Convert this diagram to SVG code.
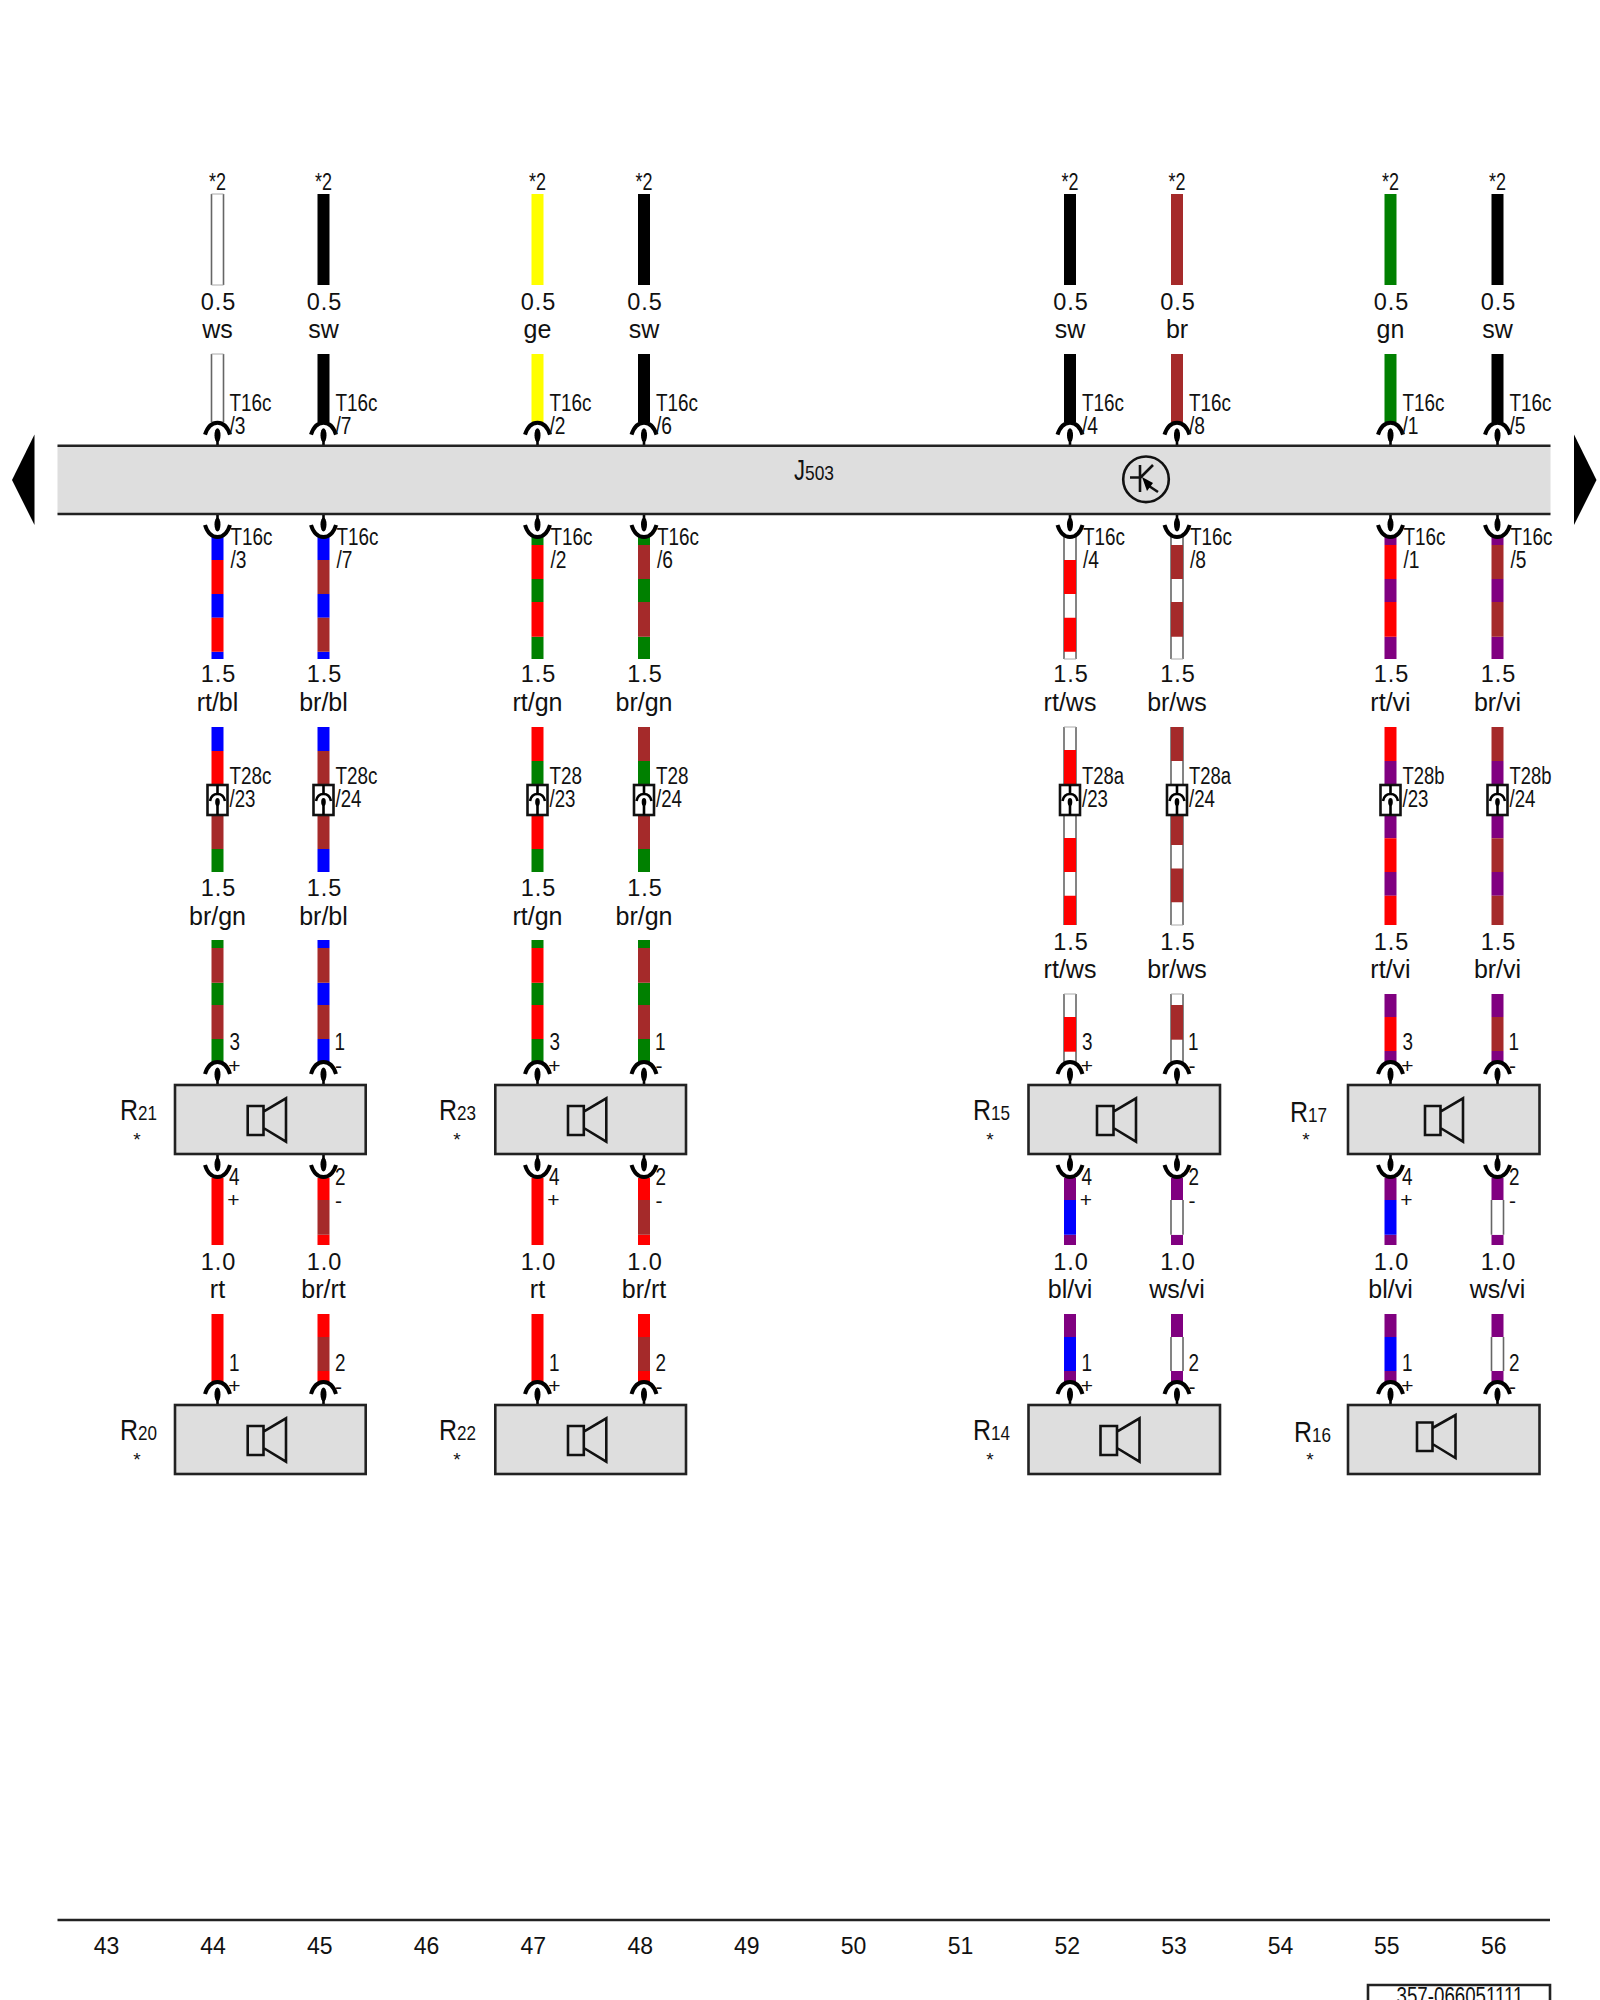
<svg xmlns="http://www.w3.org/2000/svg" width="1600" height="2000" viewBox="0 0 1600 2000">
<style>
text{fill:#111;font-family:"Liberation Sans",Arial,sans-serif}
.t{font-size:25px;text-anchor:middle}
.f{font-size:23px;text-anchor:middle}
.g{font-size:23.500px;text-anchor:middle;letter-spacing:1px}
.n{font-size:23px}
.c{text-anchor:middle}
.p{font-size:21px;text-anchor:middle}
.big{font-size:29px}
.sm{font-size:21px}
.st{font-size:19px;text-anchor:middle}
.w path{fill:none;stroke-width:12}
.R{stroke:#f00}.B{stroke:#00f}.G{stroke:#008000}.N{stroke:#a52a2a}.V{stroke:#800080}.K{stroke:#000}.Y{stroke:#ff0}.W{stroke:#fff}
.w path.s{stroke:#666;stroke-width:1.6}
.w path.e{stroke:#aaa;stroke-width:1}
.box{fill:#dedede;stroke:#222;stroke-width:2.6}
.ic{fill:none;stroke:#111;stroke-width:2.6}
.rule{stroke:#222;stroke-width:2.6;fill:none}
.arc{fill:none;stroke:#000;stroke-width:4}
.stem{stroke:#000;stroke-width:2.6;fill:none}
.plug{fill:#fff;stroke:#111;stroke-width:2.6}
</style>
<defs>
<g id="pu"><path class="arc" d="M-12.500-11C-10-19-5-23 0-23S10-19 12.500-11"/><ellipse cx="0" cy="-10.500" rx="3" ry="7"/><path class="stem" d="M0-5V0"/></g>
<g id="pd"><path class="arc" d="M-12.500 11C-10 19-5 23 0 23S10 19 12.500 11"/><ellipse cx="0" cy="10.500" rx="3" ry="7"/><path class="stem" d="M0 5V0"/></g>
<g id="sq"><rect class="plug" x="-10" y="785" width="20" height="30"/><path class="stem" d="M0 785V795M0 800V815"/><path d="M-7.500 801C-6.500 796-3 794 0 794S6.500 796 7.500 801" fill="none" stroke="#000" stroke-width="2.600"/><ellipse cx="0" cy="802" rx="2.300" ry="4"/></g>
</defs>

<g id="connectors">
<g id="wire-44" class="w" transform="translate(217.500 0)">
<path class="W" d="M0 194V285M0 354V422"/><path class="s" d="M-6 194V285M6 194V285M-6 354V422M6 354V422"/><path class="e" d="M-6 194H6M-6 285H6M-6 354H6"/>
<path class="B" d="M0 537V560M0 594V617.700M0 651.700V659"/><path class="R" d="M0 560V594M0 617.700V651.700"/>
<path class="B" d="M0 727V751"/><path class="R" d="M0 751V785"/><path class="N" d="M0 815V849"/><path class="G" d="M0 849V872"/>
<path class="G" d="M0 940V948M0 982.700V1005M0 1039V1062"/><path class="N" d="M0 948V982.700M0 1005V1039"/>
<path class="R" d="M0 1178V1245M0 1314V1382"/>
<use href="#pu" y="445.700"/><use href="#pd" y="514"/><use href="#sq"/><use href="#pu" y="1085"/><use href="#pd" y="1154"/><use href="#pu" y="1405"/>
<text class="n c" y="190" textLength="17" lengthAdjust="spacingAndGlyphs">*2</text><text class="g" x="1" y="310">0.5</text><text class="t" y="338">ws</text>
<text class="n" x="12" y="411" textLength="42" lengthAdjust="spacingAndGlyphs">T16c</text><text class="n" x="12" y="434" textLength="16" lengthAdjust="spacingAndGlyphs">/3</text><text class="n" x="13" y="545" textLength="42" lengthAdjust="spacingAndGlyphs">T16c</text><text class="n" x="13" y="568" textLength="16" lengthAdjust="spacingAndGlyphs">/3</text>
<text class="g" x="1" y="682">1.5</text><text class="t" y="711">rt/bl</text>
<text class="n" x="12" y="784" textLength="42" lengthAdjust="spacingAndGlyphs">T28c</text><text class="n" x="12" y="807" textLength="26" lengthAdjust="spacingAndGlyphs">/23</text>
<text class="g" x="1" y="896">1.5</text><text class="t" y="925">br/gn</text>
<text class="n" x="12" y="1050" textLength="10.500" lengthAdjust="spacingAndGlyphs">3</text><text class="p" x="17" y="1073">+</text>
<text class="n" x="11.500" y="1185" textLength="10.500" lengthAdjust="spacingAndGlyphs">4</text><text class="p" x="16" y="1207">+</text>
<text class="g" x="1" y="1270">1.0</text><text class="t" y="1298">rt</text>
<text class="n" x="11.500" y="1371" textLength="10.500" lengthAdjust="spacingAndGlyphs">1</text><text class="p" x="17" y="1393">+</text>
</g>
<g id="wire-45" class="w" transform="translate(323.500 0)">
<path class="K" d="M0 194V285M0 354V422"/>
<path class="B" d="M0 537V560M0 594V617.700M0 651.700V659"/><path class="N" d="M0 560V594M0 617.700V651.700"/>
<path class="B" d="M0 727V751"/><path class="N" d="M0 751V785M0 815V849"/><path class="B" d="M0 849V872"/>
<path class="B" d="M0 940V948M0 982.700V1005M0 1039V1062"/><path class="N" d="M0 948V982.700M0 1005V1039"/>
<path class="R" d="M0 1178V1200M0 1234.700V1245M0 1314V1337M0 1371V1382"/><path class="N" d="M0 1200V1234.700M0 1337V1371"/>
<use href="#pu" y="445.700"/><use href="#pd" y="514"/><use href="#sq"/><use href="#pu" y="1085"/><use href="#pd" y="1154"/><use href="#pu" y="1405"/>
<text class="n c" y="190" textLength="17" lengthAdjust="spacingAndGlyphs">*2</text><text class="g" x="1" y="310">0.5</text><text class="t" y="338">sw</text>
<text class="n" x="12" y="411" textLength="42" lengthAdjust="spacingAndGlyphs">T16c</text><text class="n" x="12" y="434" textLength="16" lengthAdjust="spacingAndGlyphs">/7</text><text class="n" x="13" y="545" textLength="42" lengthAdjust="spacingAndGlyphs">T16c</text><text class="n" x="13" y="568" textLength="16" lengthAdjust="spacingAndGlyphs">/7</text>
<text class="g" x="1" y="682">1.5</text><text class="t" y="711">br/bl</text>
<text class="n" x="12" y="784" textLength="42" lengthAdjust="spacingAndGlyphs">T28c</text><text class="n" x="12" y="807" textLength="26" lengthAdjust="spacingAndGlyphs">/24</text>
<text class="g" x="1" y="896">1.5</text><text class="t" y="925">br/bl</text>
<text class="n" x="11" y="1050" textLength="10.500" lengthAdjust="spacingAndGlyphs">1</text><text class="p" x="15" y="1073">-</text>
<text class="n" x="11.500" y="1185" textLength="10.500" lengthAdjust="spacingAndGlyphs">2</text><text class="p" x="15" y="1208">-</text>
<text class="g" x="1" y="1270">1.0</text><text class="t" y="1298">br/rt</text>
<text class="n" x="11.500" y="1371" textLength="10.500" lengthAdjust="spacingAndGlyphs">2</text><text class="p" x="15" y="1394">-</text>
</g>
<g id="wire-47" class="w" transform="translate(537.500 0)">
<path class="Y" d="M0 194V285M0 354V422"/>
<path class="G" d="M0 537V545M0 579V602M0 636.700V659"/><path class="R" d="M0 545V579M0 602V636.700"/>
<path class="R" d="M0 727V761"/><path class="G" d="M0 761V785"/><path class="R" d="M0 815V849"/><path class="G" d="M0 849V872"/>
<path class="G" d="M0 940V948M0 982.700V1005M0 1039V1062"/><path class="R" d="M0 948V982.700M0 1005V1039"/>
<path class="R" d="M0 1178V1245M0 1314V1382"/>
<use href="#pu" y="445.700"/><use href="#pd" y="514"/><use href="#sq"/><use href="#pu" y="1085"/><use href="#pd" y="1154"/><use href="#pu" y="1405"/>
<text class="n c" y="190" textLength="17" lengthAdjust="spacingAndGlyphs">*2</text><text class="g" x="1" y="310">0.5</text><text class="t" y="338">ge</text>
<text class="n" x="12" y="411" textLength="42" lengthAdjust="spacingAndGlyphs">T16c</text><text class="n" x="12" y="434" textLength="16" lengthAdjust="spacingAndGlyphs">/2</text><text class="n" x="13" y="545" textLength="42" lengthAdjust="spacingAndGlyphs">T16c</text><text class="n" x="13" y="568" textLength="16" lengthAdjust="spacingAndGlyphs">/2</text>
<text class="g" x="1" y="682">1.5</text><text class="t" y="711">rt/gn</text>
<text class="n" x="12" y="784" textLength="32.500" lengthAdjust="spacingAndGlyphs">T28</text><text class="n" x="12" y="807" textLength="26" lengthAdjust="spacingAndGlyphs">/23</text>
<text class="g" x="1" y="896">1.5</text><text class="t" y="925">rt/gn</text>
<text class="n" x="12" y="1050" textLength="10.500" lengthAdjust="spacingAndGlyphs">3</text><text class="p" x="17" y="1073">+</text>
<text class="n" x="11.500" y="1185" textLength="10.500" lengthAdjust="spacingAndGlyphs">4</text><text class="p" x="16" y="1207">+</text>
<text class="g" x="1" y="1270">1.0</text><text class="t" y="1298">rt</text>
<text class="n" x="11.500" y="1371" textLength="10.500" lengthAdjust="spacingAndGlyphs">1</text><text class="p" x="17" y="1393">+</text>
</g>
<g id="wire-48" class="w" transform="translate(644 0)">
<path class="K" d="M0 194V285M0 354V422"/>
<path class="G" d="M0 537V545M0 579V602M0 636.700V659"/><path class="N" d="M0 545V579M0 602V636.700"/>
<path class="N" d="M0 727V761"/><path class="G" d="M0 761V785"/><path class="N" d="M0 815V849"/><path class="G" d="M0 849V872"/>
<path class="G" d="M0 940V948M0 982.700V1005M0 1039V1062"/><path class="N" d="M0 948V982.700M0 1005V1039"/>
<path class="R" d="M0 1178V1200M0 1234.700V1245M0 1314V1337M0 1371V1382"/><path class="N" d="M0 1200V1234.700M0 1337V1371"/>
<use href="#pu" y="445.700"/><use href="#pd" y="514"/><use href="#sq"/><use href="#pu" y="1085"/><use href="#pd" y="1154"/><use href="#pu" y="1405"/>
<text class="n c" y="190" textLength="17" lengthAdjust="spacingAndGlyphs">*2</text><text class="g" x="1" y="310">0.5</text><text class="t" y="338">sw</text>
<text class="n" x="12" y="411" textLength="42" lengthAdjust="spacingAndGlyphs">T16c</text><text class="n" x="12" y="434" textLength="16" lengthAdjust="spacingAndGlyphs">/6</text><text class="n" x="13" y="545" textLength="42" lengthAdjust="spacingAndGlyphs">T16c</text><text class="n" x="13" y="568" textLength="16" lengthAdjust="spacingAndGlyphs">/6</text>
<text class="g" x="1" y="682">1.5</text><text class="t" y="711">br/gn</text>
<text class="n" x="12" y="784" textLength="32.500" lengthAdjust="spacingAndGlyphs">T28</text><text class="n" x="12" y="807" textLength="26" lengthAdjust="spacingAndGlyphs">/24</text>
<text class="g" x="1" y="896">1.5</text><text class="t" y="925">br/gn</text>
<text class="n" x="11" y="1050" textLength="10.500" lengthAdjust="spacingAndGlyphs">1</text><text class="p" x="15" y="1073">-</text>
<text class="n" x="11.500" y="1185" textLength="10.500" lengthAdjust="spacingAndGlyphs">2</text><text class="p" x="15" y="1208">-</text>
<text class="g" x="1" y="1270">1.0</text><text class="t" y="1298">br/rt</text>
<text class="n" x="11.500" y="1371" textLength="10.500" lengthAdjust="spacingAndGlyphs">2</text><text class="p" x="15" y="1394">-</text>
</g>
<g id="wire-52" class="w" transform="translate(1070 0)">
<path class="K" d="M0 194V285M0 354V422"/>
<path class="W" d="M0 537V659M0 727V785M0 815V925M0 994V1062"/><path class="s" d="M-6 537V659M6 537V659M-6 727V785M6 727V785M-6 815V925M6 815V925M-6 994V1062M6 994V1062"/><path class="e" d="M-6 659H6M-6 727H6M-6 994H6"/>
<path class="R" d="M0 560V594M0 617.700V651.700"/>
<path class="R" d="M0 750V785M0 838V872M0 895.700V925"/>
<path class="R" d="M0 1017V1051.700"/>
<path class="V" d="M0 1178V1200M0 1234.700V1245M0 1314V1337M0 1371V1382"/><path class="B" d="M0 1200V1234.700M0 1337V1371"/>
<use href="#pu" y="445.700"/><use href="#pd" y="514"/><use href="#sq"/><use href="#pu" y="1085"/><use href="#pd" y="1154"/><use href="#pu" y="1405"/>
<text class="n c" y="190" textLength="17" lengthAdjust="spacingAndGlyphs">*2</text><text class="g" x="1" y="310">0.5</text><text class="t" y="338">sw</text>
<text class="n" x="12" y="411" textLength="42" lengthAdjust="spacingAndGlyphs">T16c</text><text class="n" x="12" y="434" textLength="16" lengthAdjust="spacingAndGlyphs">/4</text><text class="n" x="13" y="545" textLength="42" lengthAdjust="spacingAndGlyphs">T16c</text><text class="n" x="13" y="568" textLength="16" lengthAdjust="spacingAndGlyphs">/4</text>
<text class="g" x="1" y="682">1.5</text><text class="t" y="711">rt/ws</text>
<text class="n" x="12" y="784" textLength="42" lengthAdjust="spacingAndGlyphs">T28a</text><text class="n" x="12" y="807" textLength="26" lengthAdjust="spacingAndGlyphs">/23</text>
<text class="g" x="1" y="950">1.5</text><text class="t" y="978">rt/ws</text>
<text class="n" x="12" y="1050" textLength="10.500" lengthAdjust="spacingAndGlyphs">3</text><text class="p" x="17" y="1073">+</text>
<text class="n" x="11.500" y="1185" textLength="10.500" lengthAdjust="spacingAndGlyphs">4</text><text class="p" x="16" y="1207">+</text>
<text class="g" x="1" y="1270">1.0</text><text class="t" y="1298">bl/vi</text>
<text class="n" x="11.500" y="1371" textLength="10.500" lengthAdjust="spacingAndGlyphs">1</text><text class="p" x="17" y="1393">+</text>
</g>
<g id="wire-53" class="w" transform="translate(1177 0)">
<path class="N" d="M0 194V285M0 354V422"/>
<path class="W" d="M0 537V659M0 727V785M0 815V925M0 994V1062"/><path class="s" d="M-6 537V659M6 537V659M-6 727V785M6 727V785M-6 815V925M6 815V925M-6 994V1062M6 994V1062"/><path class="e" d="M-6 659H6M-6 925H6M-6 994H6"/>
<path class="N" d="M0 545V579M0 602V636.700"/>
<path class="N" d="M0 727V761M0 815V845M0 868.500V902.300"/>
<path class="N" d="M0 1005V1039.700"/>
<path class="V" d="M0 1178V1200M0 1234.700V1245M0 1314V1337M0 1371V1382"/>
<path class="W" d="M0 1200V1234.700M0 1337V1371"/><path class="s" d="M-6 1200V1234.700M6 1200V1234.700M-6 1337V1371M6 1337V1371"/>
<use href="#pu" y="445.700"/><use href="#pd" y="514"/><use href="#sq"/><use href="#pu" y="1085"/><use href="#pd" y="1154"/><use href="#pu" y="1405"/>
<text class="n c" y="190" textLength="17" lengthAdjust="spacingAndGlyphs">*2</text><text class="g" x="1" y="310">0.5</text><text class="t" y="338">br</text>
<text class="n" x="12" y="411" textLength="42" lengthAdjust="spacingAndGlyphs">T16c</text><text class="n" x="12" y="434" textLength="16" lengthAdjust="spacingAndGlyphs">/8</text><text class="n" x="13" y="545" textLength="42" lengthAdjust="spacingAndGlyphs">T16c</text><text class="n" x="13" y="568" textLength="16" lengthAdjust="spacingAndGlyphs">/8</text>
<text class="g" x="1" y="682">1.5</text><text class="t" y="711">br/ws</text>
<text class="n" x="12" y="784" textLength="42" lengthAdjust="spacingAndGlyphs">T28a</text><text class="n" x="12" y="807" textLength="26" lengthAdjust="spacingAndGlyphs">/24</text>
<text class="g" x="1" y="950">1.5</text><text class="t" y="978">br/ws</text>
<text class="n" x="11" y="1050" textLength="10.500" lengthAdjust="spacingAndGlyphs">1</text><text class="p" x="15" y="1073">-</text>
<text class="n" x="11.500" y="1185" textLength="10.500" lengthAdjust="spacingAndGlyphs">2</text><text class="p" x="15" y="1208">-</text>
<text class="g" x="1" y="1270">1.0</text><text class="t" y="1298">ws/vi</text>
<text class="n" x="11.500" y="1371" textLength="10.500" lengthAdjust="spacingAndGlyphs">2</text><text class="p" x="15" y="1394">-</text>
</g>
<g id="wire-55" class="w" transform="translate(1390.500 0)">
<path class="G" d="M0 194V285M0 354V422"/>
<path class="V" d="M0 537V545M0 579V602M0 636.700V659"/><path class="R" d="M0 545V579M0 602V636.700"/>
<path class="R" d="M0 727V761"/><path class="V" d="M0 761V785M0 815V838.300M0 872V895.700"/><path class="R" d="M0 838.300V872M0 895.700V925"/>
<path class="V" d="M0 994V1017M0 1051V1062"/><path class="R" d="M0 1017V1051"/>
<path class="V" d="M0 1178V1200M0 1234.700V1245M0 1314V1337M0 1371V1382"/><path class="B" d="M0 1200V1234.700M0 1337V1371"/>
<use href="#pu" y="445.700"/><use href="#pd" y="514"/><use href="#sq"/><use href="#pu" y="1085"/><use href="#pd" y="1154"/><use href="#pu" y="1405"/>
<text class="n c" y="190" textLength="17" lengthAdjust="spacingAndGlyphs">*2</text><text class="g" x="1" y="310">0.5</text><text class="t" y="338">gn</text>
<text class="n" x="12" y="411" textLength="42" lengthAdjust="spacingAndGlyphs">T16c</text><text class="n" x="12" y="434" textLength="16" lengthAdjust="spacingAndGlyphs">/1</text><text class="n" x="13" y="545" textLength="42" lengthAdjust="spacingAndGlyphs">T16c</text><text class="n" x="13" y="568" textLength="16" lengthAdjust="spacingAndGlyphs">/1</text>
<text class="g" x="1" y="682">1.5</text><text class="t" y="711">rt/vi</text>
<text class="n" x="12" y="784" textLength="42" lengthAdjust="spacingAndGlyphs">T28b</text><text class="n" x="12" y="807" textLength="26" lengthAdjust="spacingAndGlyphs">/23</text>
<text class="g" x="1" y="950">1.5</text><text class="t" y="978">rt/vi</text>
<text class="n" x="12" y="1050" textLength="10.500" lengthAdjust="spacingAndGlyphs">3</text><text class="p" x="17" y="1073">+</text>
<text class="n" x="11.500" y="1185" textLength="10.500" lengthAdjust="spacingAndGlyphs">4</text><text class="p" x="16" y="1207">+</text>
<text class="g" x="1" y="1270">1.0</text><text class="t" y="1298">bl/vi</text>
<text class="n" x="11.500" y="1371" textLength="10.500" lengthAdjust="spacingAndGlyphs">1</text><text class="p" x="17" y="1393">+</text>
</g>
<g id="wire-56" class="w" transform="translate(1497.500 0)">
<path class="K" d="M0 194V285M0 354V422"/>
<path class="V" d="M0 537V545M0 579V602M0 636.700V659"/><path class="N" d="M0 545V579M0 602V636.700"/>
<path class="N" d="M0 727V761"/><path class="V" d="M0 761V785M0 815V838.300M0 872V895.700"/><path class="N" d="M0 838.300V872M0 895.700V925"/>
<path class="V" d="M0 994V1017M0 1051V1062"/><path class="N" d="M0 1017V1051"/>
<path class="V" d="M0 1178V1200M0 1234.700V1245M0 1314V1337M0 1371V1382"/>
<path class="W" d="M0 1200V1234.700M0 1337V1371"/><path class="s" d="M-6 1200V1234.700M6 1200V1234.700M-6 1337V1371M6 1337V1371"/>
<use href="#pu" y="445.700"/><use href="#pd" y="514"/><use href="#sq"/><use href="#pu" y="1085"/><use href="#pd" y="1154"/><use href="#pu" y="1405"/>
<text class="n c" y="190" textLength="17" lengthAdjust="spacingAndGlyphs">*2</text><text class="g" x="1" y="310">0.5</text><text class="t" y="338">sw</text>
<text class="n" x="12" y="411" textLength="42" lengthAdjust="spacingAndGlyphs">T16c</text><text class="n" x="12" y="434" textLength="16" lengthAdjust="spacingAndGlyphs">/5</text><text class="n" x="13" y="545" textLength="42" lengthAdjust="spacingAndGlyphs">T16c</text><text class="n" x="13" y="568" textLength="16" lengthAdjust="spacingAndGlyphs">/5</text>
<text class="g" x="1" y="682">1.5</text><text class="t" y="711">br/vi</text>
<text class="n" x="12" y="784" textLength="42" lengthAdjust="spacingAndGlyphs">T28b</text><text class="n" x="12" y="807" textLength="26" lengthAdjust="spacingAndGlyphs">/24</text>
<text class="g" x="1" y="950">1.5</text><text class="t" y="978">br/vi</text>
<text class="n" x="11" y="1050" textLength="10.500" lengthAdjust="spacingAndGlyphs">1</text><text class="p" x="15" y="1073">-</text>
<text class="n" x="11.500" y="1185" textLength="10.500" lengthAdjust="spacingAndGlyphs">2</text><text class="p" x="15" y="1208">-</text>
<text class="g" x="1" y="1270">1.0</text><text class="t" y="1298">ws/vi</text>
<text class="n" x="11.500" y="1371" textLength="10.500" lengthAdjust="spacingAndGlyphs">2</text><text class="p" x="15" y="1394">-</text>
</g>
</g>

<g id="J503">
<rect x="57.500" y="445.700" width="1493" height="68.300" fill="#dedede"/>
<path class="rule" d="M57.500 445.700H1550.500M57.500 514H1550.500"/>
<polygon points="34.500,434.500 12,480 34.500,525"/>
<polygon points="1574,434.500 1596.500,480 1574,525"/>
<text class="big" x="794" y="480" textLength="11" lengthAdjust="spacingAndGlyphs">J</text><text class="sm" x="805" y="480" textLength="29" lengthAdjust="spacingAndGlyphs">503</text>
<circle class="ic" cx="1146" cy="479.300" r="22.800"/>
<path class="ic" d="M1140 465V492M1130 477.500H1140M1140 478L1153 465M1146 484L1158 492"/>
<polygon points="1142,477 1153,483 1147,491"/>
</g>

<g id="R21"><rect class="box" x="175" y="1085" width="190.700" height="69"/><path class="ic" d="M247.700 1106H263.500V1135H247.700ZM263.500 1111.700L286 1098.300V1141.700L263.500 1128"/><text class="big" x="120" y="1119.500" textLength="18" lengthAdjust="spacingAndGlyphs">R</text><text class="sm" x="138" y="1119.500" textLength="19" lengthAdjust="spacingAndGlyphs">21</text><text class="st" x="137" y="1146">*</text></g>
<g id="R20"><rect class="box" x="175" y="1405" width="190.700" height="69"/><path class="ic" d="M247.700 1426H263.500V1455H247.700ZM263.500 1431.700L286 1418.300V1461.700L263.500 1448"/><text class="big" x="120" y="1440" textLength="18" lengthAdjust="spacingAndGlyphs">R</text><text class="sm" x="138" y="1440" textLength="19" lengthAdjust="spacingAndGlyphs">20</text><text class="st" x="137" y="1466">*</text></g>
<g id="R23"><rect class="box" x="495.300" y="1085" width="190.700" height="69"/><path class="ic" d="M568 1106H583.800V1135H568ZM583.800 1111.700L606.300 1098.300V1141.700L583.800 1128"/><text class="big" x="439" y="1119.500" textLength="18" lengthAdjust="spacingAndGlyphs">R</text><text class="sm" x="457" y="1119.500" textLength="19" lengthAdjust="spacingAndGlyphs">23</text><text class="st" x="457" y="1146">*</text></g>
<g id="R22"><rect class="box" x="495.300" y="1405" width="190.700" height="69"/><path class="ic" d="M568 1426H583.800V1455H568ZM583.800 1431.700L606.300 1418.300V1461.700L583.800 1448"/><text class="big" x="439" y="1440" textLength="18" lengthAdjust="spacingAndGlyphs">R</text><text class="sm" x="457" y="1440" textLength="19" lengthAdjust="spacingAndGlyphs">22</text><text class="st" x="457" y="1466">*</text></g>
<g id="R15"><rect class="box" x="1028.500" y="1085" width="191.500" height="69"/><path class="ic" d="M1097 1106H1113.500V1135H1097ZM1113.500 1111.700L1136 1098.300V1141.700L1113.500 1128"/><text class="big" x="973" y="1119.500" textLength="18" lengthAdjust="spacingAndGlyphs">R</text><text class="sm" x="991" y="1119.500" textLength="19" lengthAdjust="spacingAndGlyphs">15</text><text class="st" x="990" y="1146">*</text></g>
<g id="R14"><rect class="box" x="1028.500" y="1405" width="191.500" height="69"/><path class="ic" d="M1100.500 1426H1117V1455H1100.500ZM1117 1431.700L1139.500 1418.300V1461.700L1117 1448"/><text class="big" x="973" y="1440" textLength="18" lengthAdjust="spacingAndGlyphs">R</text><text class="sm" x="991" y="1440" textLength="19" lengthAdjust="spacingAndGlyphs">14</text><text class="st" x="990" y="1466">*</text></g>
<g id="R17"><rect class="box" x="1348" y="1085" width="191.500" height="69"/><path class="ic" d="M1425 1106H1440.500V1135H1425ZM1440.500 1111.700L1463 1098.300V1141.700L1440.500 1128"/><text class="big" x="1290" y="1121.500" textLength="18" lengthAdjust="spacingAndGlyphs">R</text><text class="sm" x="1308" y="1121.500" textLength="19" lengthAdjust="spacingAndGlyphs">17</text><text class="st" x="1306" y="1146">*</text></g>
<g id="R16"><rect class="box" x="1348" y="1405" width="191.500" height="69"/><path class="ic" d="M1417 1422.500H1432.500V1451H1417ZM1432.500 1428L1455.500 1415V1458L1432.500 1444"/><text class="big" x="1294" y="1441.500" textLength="18" lengthAdjust="spacingAndGlyphs">R</text><text class="sm" x="1312" y="1441.500" textLength="19" lengthAdjust="spacingAndGlyphs">16</text><text class="st" x="1310" y="1466">*</text></g>

<g id="footer">
<path class="rule" d="M57.500 1920H1550"/>
<text class="f" x="106.500" y="1954">43</text><text class="f" x="213" y="1954">44</text><text class="f" x="319.700" y="1954">45</text><text class="f" x="426.500" y="1954">46</text><text class="f" x="533.300" y="1954">47</text><text class="f" x="640.300" y="1954">48</text><text class="f" x="746.700" y="1954">49</text><text class="f" x="853.600" y="1954">50</text><text class="f" x="960.500" y="1954">51</text><text class="f" x="1067.300" y="1954">52</text><text class="f" x="1174" y="1954">53</text><text class="f" x="1280.500" y="1954">54</text><text class="f" x="1386.700" y="1954">55</text><text class="f" x="1493.700" y="1954">56</text>
<path class="rule" d="M1368 2000V1985H1550V2000"/>
<text class="n c" x="1460" y="2003.500" textLength="127" lengthAdjust="spacingAndGlyphs">357-066051111</text>
</g>
</svg>
